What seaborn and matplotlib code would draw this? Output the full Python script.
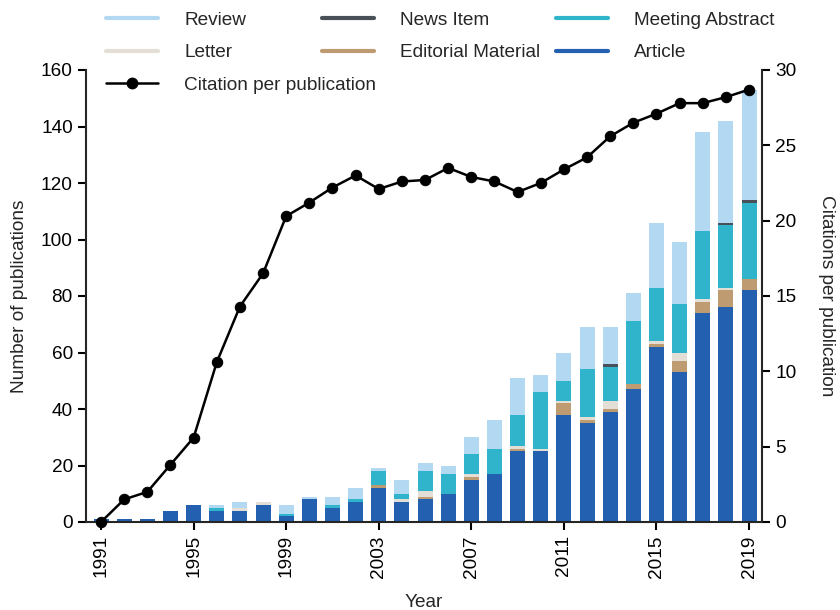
import numpy as np
import pandas as pd
import matplotlib
matplotlib.use("Agg")
import matplotlib.pyplot as plt
from matplotlib.lines import Line2D
import seaborn as sns

years = list(range(1991, 2020))
article = [1, 1, 1, 4, 6, 4, 4, 6, 2, 8, 5, 7, 12, 7, 8, 10, 15, 17, 25, 25, 38, 35, 39, 47, 62, 53, 74, 76, 82]
editorial = [0, 0, 0, 0, 0, 0, 0, 0, 0, 0, 0, 0, 1, 0, 1, 0, 1, 0, 1, 0, 4, 1, 1, 2, 1, 4, 4, 6, 4]
letter = [0, 0, 0, 0, 0, 0, 1, 1, 0, 0, 0, 0, 0, 1, 2, 0, 1, 0, 1, 1, 1, 1, 3, 0, 1, 3, 1, 1, 0]
meeting = [0, 0, 0, 0, 0, 1, 0, 0, 1, 0, 1, 1, 5, 2, 7, 7, 7, 9, 11, 20, 7, 17, 12, 22, 19, 17, 24, 22, 27]
news = [0, 0, 0, 0, 0, 0, 0, 0, 0, 0, 0, 0, 0, 0, 0, 0, 0, 0, 0, 0, 0, 0, 1, 0, 0, 0, 0, 1, 1]
review = [0, 0, 0, 0, 0, 1, 2, 0, 3, 1, 3, 4, 1, 5, 3, 3, 6, 10, 13, 6, 10, 15, 13, 10, 23, 22, 35, 36, 39]
citations = [0, 1.5, 2.0, 3.8, 5.6, 10.6, 14.3, 16.5, 20.3, 21.2, 22.2, 23.0, 22.1, 22.6, 22.7,
             23.5, 22.9, 22.6, 21.9, 22.5, 23.4, 24.2, 25.6, 26.5, 27.1, 27.8, 27.8, 28.2, 28.7]

series_names = ["Article", "Editorial Material", "Letter", "Meeting Abstract", "News Item", "Review"]
series_vals = [article, editorial, letter, meeting, news, review]
colors = {
    "Article": "#2360b0",
    "Editorial Material": "#bf9b72",
    "Letter": "#e3ded6",
    "Meeting Abstract": "#2fb4cc",
    "News Item": "#4a5058",
    "Review": "#b3d8f1",
}

sns.set_style("ticks")
plt.rcParams["font.family"] = ["Liberation Sans", "DejaVu Sans"]
FS = 13.7

df = pd.DataFrame({"Year": [str(y) for y in years]})
cum = np.zeros(len(years))
for name, vals in zip(series_names, series_vals):
    cum = cum + np.array(vals)
    df[name] = cum

fig = plt.figure(figsize=(8.4, 6.1), dpi=100)
ax = fig.add_axes([86 / 840, 1 - 522 / 610, (762 - 86) / 840, (522 - 70) / 610])

for name in reversed(series_names):
    sns.barplot(data=df, x="Year", y=name, color=colors[name], width=0.65,
                saturation=1, errorbar=None, linewidth=0, ax=ax)

ax.set_xlim(-0.65, len(years) - 1 + 0.56)
ax.set_ylim(0, 160)
ax.set_yticks(range(0, 161, 20))
xt = list(range(0, len(years), 4))
ax.set_xticks(xt)
ax.set_xticklabels([str(years[i]) for i in xt], rotation=90)
ax.set_xlabel("Year", fontsize=FS, labelpad=12)
ax.set_ylabel("Number of publications", fontsize=FS, labelpad=9)

ax2 = ax.twinx()
sns.lineplot(x=np.arange(len(years)), y=citations, ax=ax2, color="black", marker="o",
             markersize=7.5, linewidth=1.8, markeredgecolor="black", clip_on=False)
ax2.set_ylim(0, 30)
ax2.set_yticks(range(0, 31, 5))
ax2.set_ylabel("Citations per publication", fontsize=FS, rotation=270, labelpad=28)

for a in (ax, ax2):
    a.spines["top"].set_visible(False)
    for s in ("left", "right", "bottom"):
        a.spines[s].set_linewidth(1.5)
    a.tick_params(axis="both", direction="out", length=6, width=1.5, labelsize=FS, colors="black")
ax.spines["right"].set_visible(False)
ax2.spines["left"].set_visible(False)
ax2.spines["bottom"].set_visible(False)

def handle(name):
    return Line2D([0], [0], color=colors[name], linewidth=3.0)

leg_kw = dict(loc="upper left", frameon=False, fontsize=FS, handlelength=2.75,
              handletextpad=1.35, labelspacing=0.8, borderpad=0, borderaxespad=0)
cit_handle = Line2D([0], [0], color="black", linewidth=1.8, marker="o", markersize=7.5)
fig.legend([handle("Review"), handle("Letter"), cit_handle],
           ["Review", "Letter", "Citation per publication"],
           bbox_to_anchor=(106 / 840, 1 - 11.5 / 610), **leg_kw)
fig.legend([handle("News Item"), handle("Editorial Material")],
           ["News Item", "Editorial Material"],
           bbox_to_anchor=(322 / 840, 1 - 11.5 / 610), **leg_kw)
fig.legend([handle("Meeting Abstract"), handle("Article")],
           ["Meeting Abstract", "Article"],
           bbox_to_anchor=(556 / 840, 1 - 11.5 / 610), **leg_kw)

fig.savefig("out.png", dpi=100)
